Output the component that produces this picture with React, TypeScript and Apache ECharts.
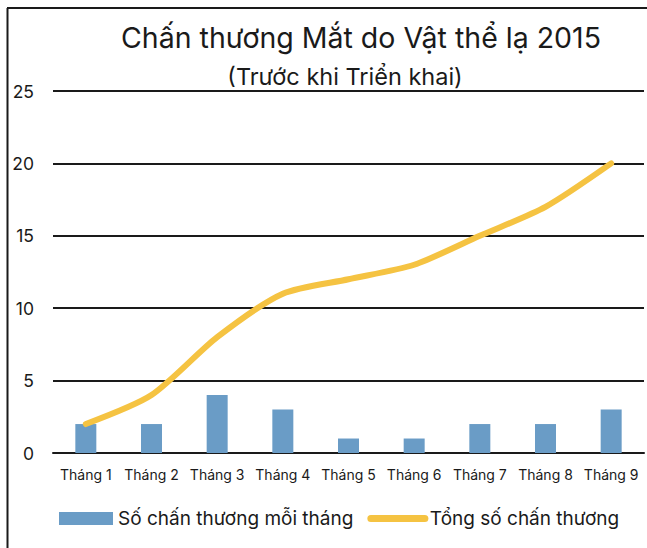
import React, { useEffect, useRef } from "react";
import * as echarts from "echarts";

const categories = ["Tháng 1", "Tháng 2", "Tháng 3", "Tháng 4", "Tháng 5", "Tháng 6", "Tháng 7", "Tháng 8", "Tháng 9"];
const monthlyInjuries = [2, 2, 4, 3, 1, 1, 2, 2, 3];
const totalInjuries = [2, 4, 8, 11, 12, 13, 15, 17, 20];
const seriesNames = ["Số chấn thương mỗi tháng", "Tổng số chấn thương"];
const titleText = "Chấn thương Mắt do Vật thể lạ 2015";
const subtitleText = "(Trước khi Triển khai)";

const FONT = "Inter, 'Noto Sans', sans-serif";

export default function App() {
  const ref = useRef<HTMLDivElement>(null);
  useEffect(() => {
    if (!ref.current) return;
    const chart = echarts.init(ref.current, null, { renderer: "svg" });
    chart.setOption({
      animation: false,
      backgroundColor: "#ffffff",
      textStyle: { fontFamily: FONT },
      title: [
        {
          text: titleText,
          left: 356,
          top: 18,
          textAlign: "center",
          textStyle: { fontFamily: FONT, fontSize: 28.5, fontWeight: "normal", color: "#1a1a1a" },
        },
        {
          text: subtitleText,
          left: 340,
          top: 59,
          textAlign: "center",
          textStyle: { fontFamily: FONT, fontSize: 23.5, fontWeight: "normal", color: "#1a1a1a" },
        },
      ],
      legend: {
        left: 54,
        top: 504,
        itemWidth: 54,
        itemHeight: 13,
        itemGap: 14,
        textStyle: { fontFamily: FONT, fontSize: 19, color: "#1a1a1a" },
        data: [
          { name: seriesNames[0], icon: "rect" },
          {
            name: seriesNames[1],
            itemStyle: { opacity: 0 },
            lineStyle: { width: 7, color: "#f5c342", cap: "round" },
          },
        ],
      },
      grid: { left: 53, right: 3, top: 91, bottom: 95 },
      xAxis: {
        type: "category",
        data: categories,
        axisLine: { lineStyle: { color: "#1a1a1a", width: 2 } },
        axisTick: { show: false },
        axisLabel: { fontFamily: FONT, fontSize: 14, color: "#1a1a1a", margin: 14, interval: 0 },
      },
      yAxis: {
        type: "value",
        min: 0,
        max: 25,
        interval: 5,
        axisLine: { show: false },
        axisTick: { show: false },
        axisLabel: { fontFamily: FONT, fontSize: 17.5, color: "#1a1a1a", margin: 19 },
        splitLine: { lineStyle: { color: "#1a1a1a", width: 2 } },
      },
      series: [
        {
          name: seriesNames[0],
          type: "bar",
          data: monthlyInjuries,
          barWidth: 21,
          itemStyle: { color: "#6a9cc6" },
        },
        {
          name: seriesNames[1],
          type: "line",
          data: totalInjuries,
          smooth: 0.25,
          symbol: "none",
          lineStyle: { color: "#f5c342", width: 6, cap: "round", join: "round" },
          itemStyle: { color: "#f5c342" },
        },
      ],
      graphic: [
        { type: "line", shape: { x1: 7.5, y1: 8, x2: 7.5, y2: 548 }, style: { stroke: "#1a1a1a", lineWidth: 2 } },
        { type: "line", shape: { x1: 7, y1: 8, x2: 647, y2: 8 }, style: { stroke: "#1a1a1a", lineWidth: 2 } },
      ],
    });
    return () => chart.dispose();
  }, []);
  return (
    <div
      ref={ref}
      style={{ position: "fixed", left: 0, top: 0, width: 647, height: 548 }}
    />
  );
}
